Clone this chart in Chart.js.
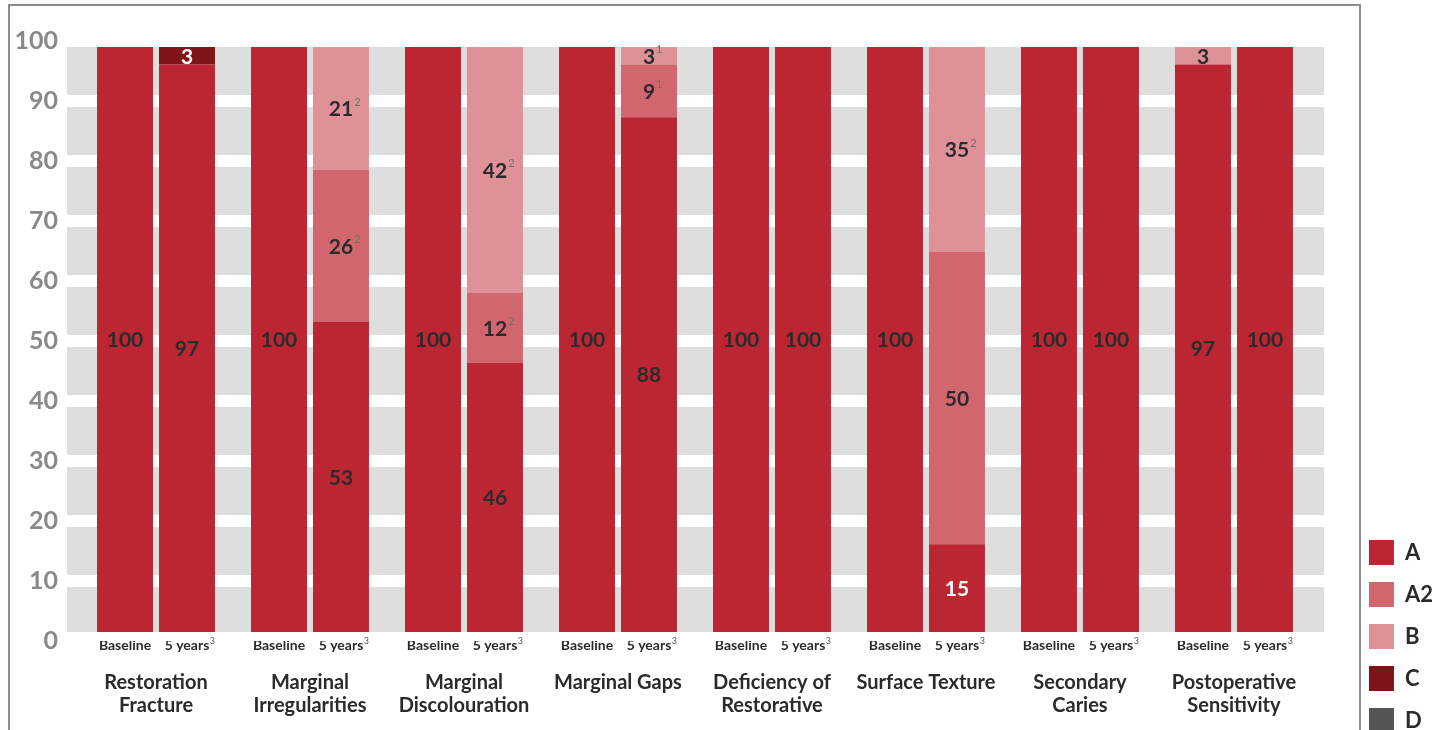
<!DOCTYPE html>
<html>
<head>
<meta charset="utf-8">
<title>Clinical evaluation – Baseline vs 5 years</title>
<script src="https://cdn.jsdelivr.net/npm/chart.js@4.4.1/dist/chart.umd.min.js"></script>
<style>
  html, body { margin: 0; padding: 0; background: #fff; overflow: hidden; }
  body { width: 1454px; height: 730px; position: relative; }
  #frame {
    position: absolute; left: 8px; top: 4px; width: 1353px; height: 780px;
    border: 2px solid #8c8c8c; border-bottom: none; box-sizing: border-box;
  }
  #wrap { position: absolute; left: 0; top: 0; width: 1454px; height: 750px; }
</style>
</head>
<body>
<div id="frame"></div>
<div id="wrap"><canvas id="chart" width="1454" height="750"></canvas></div>
<script>
// ---- data -------------------------------------------------------------
const criteria = [
  ['Restoration', 'Fracture'],
  ['Marginal', 'Irregularities'],
  ['Marginal', 'Discolouration'],
  'Marginal Gaps',
  ['Deficiency of', 'Restorative'],
  'Surface Texture',
  ['Secondary', 'Caries'],
  ['Postoperative', 'Sensitivity']
];
const periods = ['Baseline', '5 years'];
const periodNotes = ['', '3'];
const grades = ['A', 'A2', 'B', 'C', 'D'];
const yTicks = [0, 10, 20, 30, 40, 50, 60, 70, 80, 90, 100];

// percentages at baseline
const baselineA  = [100, 100, 100, 100, 100, 100, 100, 97];
const baselineA2 = [0, 0, 0, 0, 0, 0, 0, 0];
const baselineB  = [0, 0, 0, 0, 0, 0, 0, 3];
const baselineC  = [0, 0, 0, 0, 0, 0, 0, 0];
const baselineD  = [0, 0, 0, 0, 0, 0, 0, 0];

// percentages after 5 years
const fiveYearA  = [97, 53, 46, 88, 100, 15, 100, 100];
const fiveYearA2 = [0, 26, 12, 9, 0, 50, 0, 0];
const fiveYearB  = [0, 21, 42, 3, 0, 35, 0, 0];
const fiveYearC  = [3, 0, 0, 0, 0, 0, 0, 0];
const fiveYearD  = [0, 0, 0, 0, 0, 0, 0, 0];

// footnote markers printed after some values
const fiveYearA2Notes = ['', '2', '2', '1', '', '', '', ''];
const fiveYearBNotes  = ['', '2', '2', '1', '', '2', '', ''];

// ---- styling ----------------------------------------------------------
const gradeColours = {
  A:  '#bc2633',
  A2: '#d2666f',
  B:  '#df9198',
  C:  '#7e1418',
  D:  '#555555'
};
const INK = '#2b2b2b';
const LIGHT_INK = '#ffffff';
const NOTE_INK = '#6f6f6f';
const FONT = 'Lato, "Open Sans", sans-serif';
const CAT_PCT = 0.805;
const BAR_PCT = 0.903;
const SUB_FONT = { family: FONT, size: 14, weight: 'bold', lineHeight: 1.2 };
const SUB_PAD = -4;

// segments whose value is printed in white
const lightLabels = { 'fiveYear:A': [5], 'fiveYear:C': [0] };

const series = {
  baseline: { A: baselineA, A2: baselineA2, B: baselineB, C: baselineC, D: baselineD },
  fiveYear: { A: fiveYearA, A2: fiveYearA2, B: fiveYearB, C: fiveYearC, D: fiveYearD }
};
const notes = { 'fiveYear:A2': fiveYearA2Notes, 'fiveYear:B': fiveYearBNotes };

const datasets = [];
grades.forEach(g => {
  ['baseline', 'fiveYear'].forEach(p => {
    const key = p + ':' + g;
    const light = lightLabels[key] || [];
    datasets.push({
      label: g,
      stack: p,
      data: series[p][g],
      backgroundColor: gradeColours[g],
      borderWidth: 0,
      categoryPercentage: CAT_PCT,
      barPercentage: BAR_PCT,
      valueNotes: notes[key] || null,
      labelInk: series[p][g].map((v, i) => light.includes(i) ? LIGHT_INK : INK)
    });
  });
});

// grey banded background: one band between each pair of y ticks
const bandPlugin = {
  id: 'bands',
  beforeDraw(chart) {
    const { ctx, chartArea, scales } = chart;
    const y = scales.y, yl = scales.yl;
    const top = y.getPixelForValue(100);
    const bottom = y.getPixelForValue(0);
    const left = chartArea.left - 12;
    const right = chartArea.right + 13;
    const gap = 6;
    const px = yl.ticks.map(t => yl.getPixelForValue(t.value)).sort((a, b) => a - b);
    ctx.save();
    ctx.fillStyle = '#dedede';
    for (let i = 0; i < px.length - 1; i++) {
      const a = Math.max(top, px[i] + gap);
      const b = Math.min(bottom, px[i + 1] - gap);
      if (b > a) ctx.fillRect(left, a, right - left, b - a);
    }
    ctx.restore();
  }
};

// value printed in the middle of every non-empty segment
const valueLabelPlugin = {
  id: 'valueLabels',
  afterDatasetsDraw(chart) {
    const ctx = chart.ctx;
    ctx.save();
    chart.data.datasets.forEach((ds, di) => {
      const meta = chart.getDatasetMeta(di);
      meta.data.forEach((bar, i) => {
        const v = ds.data[i];
        if (!v) return;
        const { x, y, base } = bar.getProps(['x', 'y', 'base'], true);
        const cy = (y + base) / 2;
        const text = String(v);
        ctx.font = 'bold 21px ' + FONT;
        ctx.fillStyle = ds.labelInk[i];
        ctx.textAlign = 'center';
        ctx.textBaseline = 'middle';
        ctx.fillText(text, x, cy + 1);
        const note = ds.valueNotes && ds.valueNotes[i];
        if (note) {
          const w = ctx.measureText(text).width;
          ctx.font = '11px ' + FONT;
          ctx.fillStyle = NOTE_INK;
          ctx.textAlign = 'left';
          ctx.fillText(note, x + w / 2 + 1, cy - 6);
        }
      });
    });
    ctx.restore();
  }
};

// superscript footnote marker after the period tick labels
const periodNotePlugin = {
  id: 'periodNotes',
  afterDraw(chart) {
    const s = chart.scales.xSub;
    const ctx = chart.ctx;
    const midY = s.top + SUB_PAD + SUB_FONT.size * SUB_FONT.lineHeight / 2;
    ctx.save();
    s.ticks.forEach((t, i) => {
      const note = periodNotes[i % 2];
      if (!note) return;
      ctx.font = 'bold ' + SUB_FONT.size + 'px ' + FONT;
      const w = ctx.measureText(periods[i % 2]).width;
      const x = s.getPixelForTick(i) + w / 2 + 0.5;
      ctx.font = '9px ' + FONT;
      ctx.fillStyle = '#555555';
      ctx.textAlign = 'left';
      ctx.textBaseline = 'middle';
      ctx.fillText(note, x, midY - 4);
    });
    ctx.restore();
  }
};

const subTickValues = [];
criteria.forEach((c, i) => {
  subTickValues.push(i - CAT_PCT / 4, i + CAT_PCT / 4);
});

// horizontal axes keep a fixed height and do not widen the side margins
const fixHeight = h => s => { s.height = h; s.paddingLeft = 0; s.paddingRight = 0; };

new Chart(document.getElementById('chart'), {
  type: 'bar',
  data: { labels: criteria, datasets },
  plugins: [bandPlugin, valueLabelPlugin, periodNotePlugin],
  options: {
    responsive: false,
    devicePixelRatio: 1,
    animation: false,
    layout: { padding: { top: 41, left: 16, right: 11, bottom: 0 } },
    plugins: {
      tooltip: { enabled: false },
      legend: {
        position: 'right',
        align: 'end',
        labels: {
          filter: item => item.datasetIndex % 2 === 0,
          boxWidth: 25,
          boxHeight: 25,
          padding: 17,
          color: INK,
          font: { family: FONT, size: 22, weight: 'bold' }
        }
      }
    },
    scales: {
      x: {
        type: 'category',
        stacked: true,
        offset: true,
        weight: 2,
        grid: { display: false, drawTicks: false },
        border: { display: false },
        ticks: {
          color: INK,
          font: { family: FONT, size: 20, weight: 'bold', lineHeight: 1.15 },
          padding: 0,
          maxRotation: 0,
          autoSkip: false
        },
        afterFit: fixHeight(79)
      },
      xSub: {
        type: 'linear',
        position: 'bottom',
        min: -0.5,
        max: 7.5,
        offset: false,
        weight: 1,
        grid: { display: false, drawTicks: false, offset: false },
        border: { display: false },
        afterBuildTicks: s => { s.ticks = subTickValues.map(v => ({ value: v })); },
        ticks: {
          callback: (v, i) => periods[i % 2],
          color: INK,
          font: SUB_FONT,
          padding: SUB_PAD,
          maxRotation: 0,
          autoSkip: false
        },
        afterFit: fixHeight(30)
      },
      y: {
        stacked: true,
        min: -1.54,
        max: 101.03,
        display: false
      },
      yl: {
        type: 'linear',
        position: 'left',
        min: 0,
        max: 100,
        afterBuildTicks: s => { s.ticks = yTicks.map(v => ({ value: v })); },
        grid: { display: false, drawTicks: false },
        border: { display: false },
        ticks: {
          color: '#898989',
          font: { family: FONT, size: 25, weight: 'bold' },
          padding: 21,
          autoSkip: false
        },
        afterFit: s => { s.width = 63; }
      },
      yr: {
        type: 'linear',
        position: 'right',
        grid: { display: false, drawTicks: false },
        border: { display: false },
        ticks: { display: false },
        afterFit: s => { s.width = 41; }
      }
    }
  }
});
</script>
</body>
</html>
